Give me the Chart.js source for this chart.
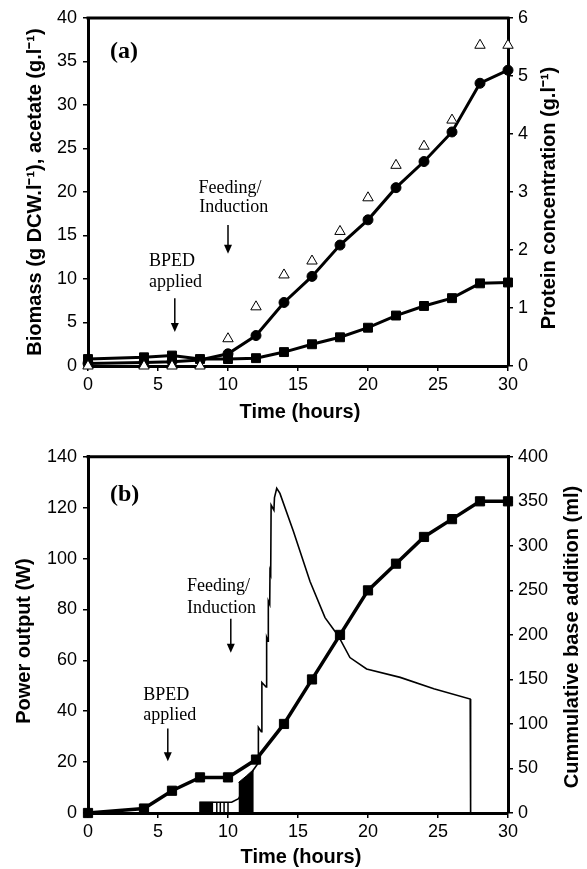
<!DOCTYPE html>
<html>
<head>
<meta charset="utf-8">
<script src="https://cdn.jsdelivr.net/npm/chart.js@4.4.1/dist/chart.umd.min.js"></script>
<style>
  html, body { margin: 0; padding: 0; background: #fff; }
  #wrap { position: relative; width: 587px; height: 869px; overflow: hidden; }
  #wrap canvas { position: absolute; left: 0; }
  #chartA { top: 0; }
  #chartB { top: 440px; }
</style>
</head>
<body>
<div id="wrap">
  <canvas id="chartA" width="587" height="440"></canvas>
  <canvas id="chartB" width="587" height="429"></canvas>
</div>
<script>
// ---- panel (a): fermentation profile ----
const timeA = [0, 4, 6, 8, 10, 12, 14, 16, 18, 20, 22, 24, 26, 28, 30];
const biomass = [0.3, 0.4, 0.5, 0.7, 1.4, 3.5, 7.3, 10.3, 13.9, 16.8, 20.5, 23.5, 26.9, 32.5, 34.0];
const acetate = [0.8, 1.0, 1.2, 0.8, 0.8, 0.9, 1.6, 2.5, 3.3, 4.4, 5.8, 6.9, 7.8, 9.5, 9.6];
const protein = [0, 0, 0, 0, 0.47, 1.02, 1.57, 1.81, 2.32, 2.90, 3.46, 3.79, 4.24, 5.53, 5.53];

// ---- panel (b): BPED power and base addition ----
const timeB = [0, 4, 6, 8, 10, 12, 14, 16, 18, 20, 22, 24, 26, 28, 30];
const baseAdded = [0, 5, 25, 40, 40, 60, 100, 150, 200, 250, 280, 310, 330, 350, 350];

// power trace (hours, W)
const powerT = [0, 8.0, 8.0, 10.26, 10.75, 11.82, 12.15, 12.17, 12.38, 12.42, 12.72, 12.76, 12.86, 12.88,
                12.98, 13.0, 13.05, 13.08, 13.28, 13.32, 13.48, 13.71, 14.67, 15.86, 16.93, 17.88,
                18.71, 19.9, 22.3, 24.7, 27.3, 27.33, 30];
const powerW = [0, 0, 4.2, 4.2, 5.6, 17.0, 19.5, 33.7, 32.0, 51.3, 49.5, 69, 67.5, 83.3,
                82, 95, 94, 121, 119, 124, 127.6, 125.6, 110.7, 91, 76.8, 69.6,
                61.1, 56.6, 53.3, 48.8, 44.8, 0, 0];
// dense on/off switching shows as solid blocks and single strokes
const blockOneT = [8.0, 8.95];
const blockOneW = [4.2, 4.2];
const blockTwoT = [10.75, 11.3, 11.84];
const blockTwoW = [12, 14.5, 17.2];
const strokeT = [9.2, 9.45, 9.72, 10.0];
const strokeTop = 4.2;

const xTicks = [0, 5, 10, 15, 20, 25, 30];

const pts = (xs, ys) => xs.map((x, i) => ({ x: x, y: ys[i] }));

const SANS = '"Liberation Sans", Arial, sans-serif';
const SERIF = '"Liberation Serif", "Times New Roman", serif';

function axis(position, min, max, step, width, padding) {
  return {
    type: 'linear', position: position, min: min, max: max,
    ticks: { stepSize: step, color: '#000', padding: padding, font: { family: SANS, size: 18 } },
    grid: { drawOnChartArea: false, drawTicks: true, tickLength: 5, color: '#000', lineWidth: 1.5 },
    border: { display: true, color: '#000', width: 3 },
    afterFit: s => { s.width = width; }
  };
}

function xAxis(height) {
  return {
    type: 'linear', min: 0, max: 30,
    afterBuildTicks: s => { s.ticks = xTicks.map(v => ({ value: v })); },
    ticks: { color: '#000', padding: 3, font: { family: SANS, size: 18 } },
    grid: { drawOnChartArea: false, drawTicks: true, tickLength: 5, color: '#000', lineWidth: 1.5 },
    border: { display: true, color: '#000', width: 3 },
    afterFit: s => { s.height = height; }
  };
}

// top edge of the frame, drawn under the marks
const frameTop = {
  id: 'frameTop',
  beforeDatasetsDraw(chart) {
    const a = chart.chartArea, ctx = chart.ctx;
    ctx.save();
    ctx.strokeStyle = '#000';
    ctx.lineWidth = 3;
    ctx.beginPath();
    ctx.moveTo(a.left - 1.5, a.top);
    ctx.lineTo(a.right + 1.5, a.top);
    ctx.stroke();
    ctx.restore();
  }
};

// axis titles and annotations
const decor = {
  id: 'decor',
  afterDraw(chart, args, opts) {
    const ctx = chart.ctx;
    const xs = chart.scales.x, ys = chart.scales.y;
    ctx.save();
    ctx.fillStyle = '#000';
    ctx.strokeStyle = '#000';
    ctx.textBaseline = 'middle';
    (opts.titles || []).forEach(t => {
      ctx.save();
      ctx.translate(t.x, t.y);
      ctx.rotate(t.rot || 0);
      ctx.font = 'bold 20px ' + SANS;
      ctx.textAlign = 'center';
      ctx.fillText(t.text, 0, 0);
      ctx.restore();
    });
    (opts.notes || []).forEach(n => {
      ctx.font = (n.bold ? 'bold 24px ' : '18px ') + SERIF;
      ctx.textAlign = 'left';
      ctx.fillText(n.text, xs.getPixelForValue(n.t), ys.getPixelForValue(n.v));
    });
    (opts.arrows || []).forEach(a => {
      const x = xs.getPixelForValue(a.t);
      const y0 = ys.getPixelForValue(a.from), y1 = ys.getPixelForValue(a.to);
      ctx.lineWidth = 1.5;
      ctx.beginPath();
      ctx.moveTo(x, y0);
      ctx.lineTo(x, y1 - 8);
      ctx.stroke();
      ctx.beginPath();
      ctx.moveTo(x - 4, y1 - 9);
      ctx.lineTo(x + 4, y1 - 9);
      ctx.lineTo(x, y1);
      ctx.closePath();
      ctx.fill();
    });
    ctx.restore();
  }
};

const lineSet = {
  showLine: true, borderColor: '#000', tension: 0, clip: false,
  pointBackgroundColor: '#000', pointBorderColor: '#000', pointBorderWidth: 1
};

new Chart(document.getElementById('chartA'), {
  type: 'scatter',
  data: {
    datasets: [
      Object.assign({}, lineSet, {
        label: 'Protein', data: pts(timeA, protein), yAxisID: 'y2', showLine: false, order: 0,
        pointStyle: 'triangle', pointRadius: 6, pointBackgroundColor: '#fff'
      }),
      Object.assign({}, lineSet, {
        label: 'Biomass', data: pts(timeA, biomass), yAxisID: 'y', borderWidth: 3, order: 1,
        pointStyle: 'circle', pointRadius: 5
      }),
      Object.assign({}, lineSet, {
        label: 'Acetate', data: pts(timeA, acetate), yAxisID: 'y', borderWidth: 3, order: 2,
        pointStyle: 'rect', pointRadius: 6.3
      })
    ]
  },
  options: {
    responsive: false, animation: false,
    layout: { padding: { top: 18, left: 0, right: 0, bottom: 0 } },
    scales: {
      x: xAxis(74),
      y: axis('left', 0, 40, 5, 88, 6),
      y2: axis('right', 0, 6, 1, 79, 5)
    },
    plugins: {
      legend: { display: false }, tooltip: { enabled: false },
      decor: {
        titles: [
          { text: 'Biomass (g DCW.l\u207B\u00B9), acetate (g.l\u207B\u00B9)', x: 35, y: 192, rot: -Math.PI / 2 },
          { text: 'Protein concentration (g.l\u207B\u00B9)', x: 549, y: 198, rot: -Math.PI / 2 },
          { text: 'Time (hours)', x: 300, y: 412 }
        ],
        notes: [
          { text: '(a)', t: 1.57, v: 36.1, bold: true },
          { text: 'Feeding/', t: 7.9, v: 20.4 },
          { text: 'Induction', t: 7.95, v: 18.2 },
          { text: 'BPED', t: 4.36, v: 12.07 },
          { text: 'applied', t: 4.36, v: 9.66 }
        ],
        arrows: [
          { t: 10.0, from: 16.2, to: 12.9 },
          { t: 6.2, from: 7.8, to: 3.9 }
        ]
      }
    }
  },
  plugins: [frameTop, decor]
});

new Chart(document.getElementById('chartB'), {
  type: 'scatter',
  data: {
    datasets: [
      Object.assign({}, lineSet, {
        label: 'Cumulative base', data: pts(timeB, baseAdded), yAxisID: 'y2', borderWidth: 3.5, order: 0,
        pointStyle: 'rect', pointRadius: 6.5
      }),
      Object.assign({}, lineSet, {
        label: 'Power', data: pts(powerT, powerW), yAxisID: 'y', borderWidth: 1.6, order: 1,
        pointRadius: 0
      }),
      Object.assign({}, lineSet, {
        label: 'Power block 1', data: pts(blockOneT, blockOneW), yAxisID: 'y', borderWidth: 1, order: 2,
        pointRadius: 0, fill: 'origin', backgroundColor: '#000'
      }),
      Object.assign({}, lineSet, {
        label: 'Power block 2', data: pts(blockTwoT, blockTwoW), yAxisID: 'y', borderWidth: 1, order: 2,
        pointRadius: 0, fill: 'origin', backgroundColor: '#000'
      }),
      Object.assign({}, lineSet, {
        label: 'Power strokes',
        data: strokeT.flatMap(t => [{ x: t, y: 0 }, { x: t, y: strokeTop }, { x: t, y: null }]),
        yAxisID: 'y', borderWidth: 1.5, order: 2, pointRadius: 0, spanGaps: false
      })
    ]
  },
  options: {
    responsive: false, animation: false,
    layout: { padding: { top: 15, left: 0, right: 0, bottom: 0 } },
    scales: {
      x: xAxis(56),
      y: axis('left', 0, 140, 20, 88, 6),
      y2: axis('right', 0, 400, 50, 79, 5)
    },
    plugins: {
      legend: { display: false }, tooltip: { enabled: false },
      decor: {
        titles: [
          { text: 'Power output (W)', x: 24, y: 201, rot: -Math.PI / 2 },
          { text: 'Cummulative base addition (ml)', x: 572, y: 197, rot: -Math.PI / 2 },
          { text: 'Time (hours)', x: 301, y: 417 }
        ],
        notes: [
          { text: '(b)', t: 1.57, v: 125.1, bold: true },
          { text: 'Feeding/', t: 7.07, v: 89.2 },
          { text: 'Induction', t: 7.07, v: 80.6 },
          { text: 'BPED', t: 3.95, v: 46.1 },
          { text: 'applied', t: 3.95, v: 38.3 }
        ],
        arrows: [
          { t: 10.2, from: 76.3, to: 63.0 },
          { t: 5.7, from: 33.2, to: 20.3 }
        ]
      }
    }
  },
  plugins: [frameTop, decor]
});
</script>
</body>
</html>
